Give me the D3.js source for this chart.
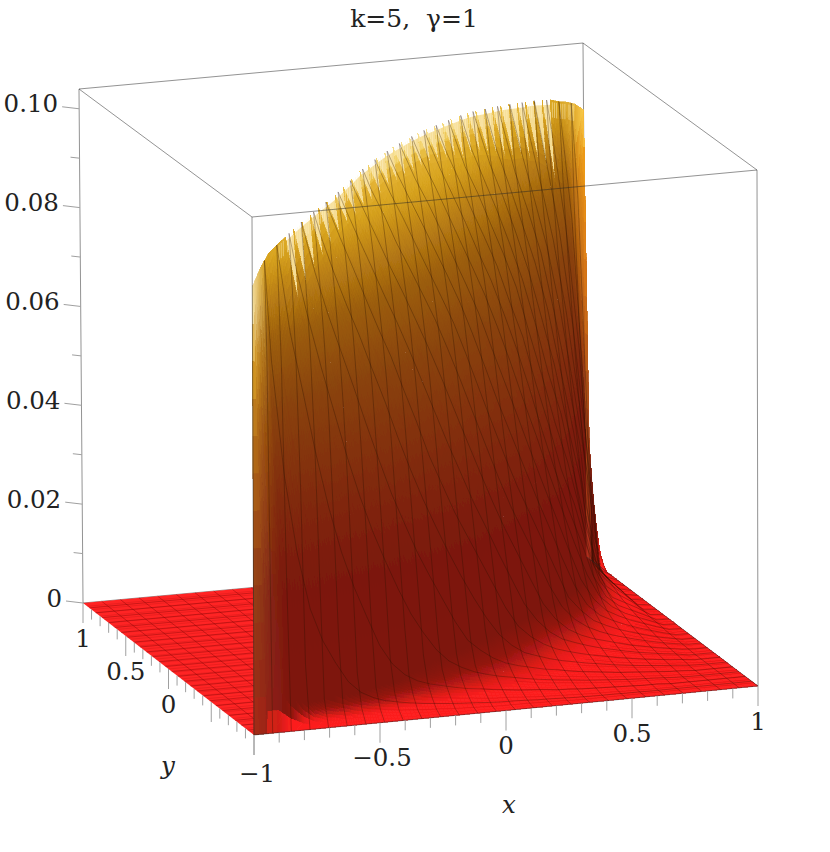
<!DOCTYPE html>
<html>
<head>
<meta charset="utf-8">
<script src="https://cdn.jsdelivr.net/npm/d3@7"></script>
<style>
  html, body { margin: 0; padding: 0; background: #fff; }
  text { font-family: "DejaVu Serif", serif; fill: #222; }
</style>
</head>
<body>
<div id="chart-wrapper"></div>
<script>
// tick labels
const xTicks = [-1, -0.5, 0, 0.5, 1];
const yTicks = [0, 0.5, 1];
const zTicks = [0, 0.02, 0.04, 0.06, 0.08, 0.1];
const zLabels = ["0", "0.02", "0.04", "0.06", "0.08", "0.10"];

// surface heights, in units of 0.0001
// grid is 40 cells per side, step 0.05
// ridgeHeights[i] = height at x = y = -1 + i * 0.05
const ridgeHeights = [900, 930, 950, 958, 965, 972, 978, 983, 988, 992, 997, 1003, 1010, 1018, 1022, 1026, 1029, 1031, 1032, 1033, 1033,
  1032, 1030, 1028, 1026, 1024, 1021, 1017, 1011, 1006, 1001, 995, 988, 982, 976, 968, 960, 948, 938, 925, 905];

// wallHeights[i] = heights on the line x = -1 + i * 0.05, going from the ridge towards y = -1
// (first entry y index i-1, next i-2 ...), missing entries are flat
const wallHeights = [
  [],
  [],
  [541],
  [717, 302],
  [788, 543, 159],
  [834, 666, 394, 80],
  [859, 729, 540, 287, 50],
  [882, 767, 625, 429, 202, 40],
  [896, 796, 687, 526, 336, 127, 32],
  [912, 823, 722, 594, 436, 261, 85, 25],
  [927, 846, 754, 648, 511, 355, 198, 62, 21],
  [936, 865, 781, 691, 570, 432, 288, 137, 48, 17],
  [945, 874, 800, 719, 616, 495, 363, 231, 96, 41, 14],
  [952, 886, 816, 737, 658, 544, 423, 300, 177, 71, 34, 12],
  [954, 895, 829, 755, 680, 579, 474, 361, 248, 125, 56, 29, 10],
  [961, 904, 837, 769, 700, 610, 513, 405, 300, 197, 92, 47, 25, 9],
  [967, 908, 842, 783, 713, 636, 544, 445, 345, 249, 144, 70, 41, 22, 7],
  [968, 915, 856, 790, 726, 656, 567, 471, 385, 290, 200, 105, 56, 35, 19, 6],
  [969, 917, 859, 800, 738, 669, 589, 504, 412, 323, 241, 150, 82, 47, 30, 17, 5],
  [970, 919, 862, 804, 745, 684, 607, 524, 440, 352, 272, 191, 108, 63, 42, 27, 14, 4],
  [970, 920, 864, 807, 749, 690, 618, 541, 460, 381, 301, 226, 144, 85, 53, 36, 23, 12, 3],
  [970, 920, 864, 809, 752, 694, 626, 552, 475, 398, 320, 251, 177, 106, 66, 45, 31, 20, 11, 3],
  [965, 917, 861, 806, 750, 695, 627, 558, 482, 410, 338, 270, 201, 126, 81, 53, 39, 28, 17, 9, 3],
  [960, 910, 856, 803, 748, 693, 625, 556, 486, 416, 346, 281, 215, 148, 93, 63, 45, 33, 24, 15, 7, 2],
  [955, 905, 852, 800, 745, 690, 622, 554, 486, 416, 350, 287, 225, 164, 106, 70, 50, 39, 29, 20, 13, 6, 2],
  [945, 895, 840, 788, 742, 685, 618, 550, 482, 416, 350, 289, 234, 175, 111, 81, 57, 44, 33, 25, 17, 10, 5, 1],
  [940, 890, 835, 783, 730, 682, 614, 548, 482, 416, 350, 292, 237, 181, 120, 87, 63, 47, 37, 29, 21, 15, 9, 4],
  [935, 880, 825, 775, 722, 662, 608, 542, 476, 416, 350, 292, 237, 184, 126, 88, 65, 50, 40, 31, 24, 19, 12, 7, 3],
  [925, 875, 815, 765, 705, 644, 590, 530, 464, 404, 344, 287, 234, 181, 126, 90, 66, 51, 42, 34, 27, 20, 15, 10, 6, 2],
  [915, 860, 805, 745, 695, 638, 572, 506, 452, 392, 332, 281, 225, 175, 123, 88, 66, 52, 44, 35, 29, 22, 17, 13, 8, 5, 2],
  [900, 845, 785, 730, 670, 602, 542, 476, 416, 368, 315, 264, 214, 162, 112, 86, 65, 51, 43, 36, 29, 24, 19, 14, 10, 7, 4, 1],
  [890, 825, 765, 708, 644, 578, 512, 452, 392, 332, 292, 242, 195, 148, 106, 81, 63, 50, 41, 35, 29, 24, 19, 15, 11, 8, 5, 3, 1],
  [885, 810, 745, 684, 614, 542, 476, 416, 356, 298, 253, 220, 170, 126, 93, 70, 57, 47, 40, 34, 29, 24, 19, 15, 12, 9, 6, 4, 2],
  [870, 790, 725, 656, 584, 512, 452, 392, 332, 275, 231, 187, 144, 106, 81, 63, 50, 44, 37, 31, 27, 22, 19, 15, 12, 9, 7, 5, 3, 2],
  [860, 765, 690, 608, 530, 458, 392, 326, 270, 225, 181, 142, 106, 85, 64, 53, 45, 39, 33, 29, 24, 20, 17, 14, 11, 9, 7, 5, 3, 2],
  [840, 735, 650, 560, 476, 398, 332, 275, 220, 150, 105, 95, 75, 60, 50, 45, 39, 33, 29, 25, 21, 18, 15, 13, 10, 8, 6, 5, 3, 2],
  [800, 698, 590, 494, 404, 326, 264, 170, 85, 80, 72, 60, 50, 42, 38, 34, 30, 27, 24, 20, 17, 15, 12, 10, 8, 7, 5, 4, 3, 2],
  [765, 632, 506, 398, 309, 237, 70, 60, 58, 55, 50, 44, 39, 33, 30, 26, 23, 20, 18, 15, 13, 10, 9, 7, 6, 5, 4, 3, 2],
  [700, 518, 374, 270, 60, 40, 36, 34, 33, 31, 30, 26, 24, 22, 19, 17, 14, 12, 11, 9, 7, 6, 5, 4, 3, 2],
  [536, 292, 120, 22, 16, 12, 9, 7, 6, 5, 4, 4, 3, 3, 2, 2, 2, 1, 1, 1, 1],
  []
];

const cells = 40;
const meshLines = 26;
const zUnit = 0.0001;
const zMax = 0.104;

// box corners on the page: [x, y] as seen in the picture
const corners = {
  front: { low: [254, 735], high: [252, 217] },  // x=-1, y=-1
  right: { low: [758, 686], high: [757, 170] },  // x=1,  y=-1
  left: { low: [83, 603], high: [79, 89] },      // x=-1, y=1
  back: { low: [587, 557], high: [583, 43] }     // x=1,  y=1
};

const xScale = d3.scaleLinear().domain([-1, 1]).range([0, 1]);
const yScale = d3.scaleLinear().domain([-1, 1]).range([0, 1]);
const zScale = d3.scaleLinear().domain([0, zMax]).range([0, 1]);

// trilinear mapping of the box on to the page
function project(x, y, z) {
  const u = xScale(x), v = yScale(y), w = zScale(z);
  const mix = (key, k) =>
    (1 - u) * (1 - v) * corners.front[key][k] +
    u * (1 - v) * corners.right[key][k] +
    (1 - u) * v * corners.left[key][k] +
    u * v * corners.back[key][k];
  return [0, 1].map((k) => mix("low", k) * (1 - w) + mix("high", k) * w);
}

// height at grid node i (x), j (y)
function heightAt(i, j) {
  if (i === j) return ridgeHeights[i] * zUnit;
  if (i < j) return 0;
  const v = wallHeights[i][i - j - 1];
  return (v === undefined ? 0 : v) * zUnit;
}
const node = (i, j) => ({ x: -1 + i * 0.05, y: -1 + j * 0.05, z: heightAt(i, j) });

// colours by height
const wallColor = d3.scaleLinear()
  .domain([0, 0.003, 0.0045, 0.006, 0.008, 0.011, 0.03, 0.05, 0.065, 0.078, 0.088, 0.094, 0.098, 0.101, 0.104])
  .range(["#ff2020", "#fa2020", "#e01d18", "#b81a14", "#921610", "#7e1410", "#7c1a0f", "#83300e", "#8a440e", "#9c5e0f", "#c08614", "#d8a420", "#e2b030", "#f0cc5a", "#fff2c0"])
  .clamp(true);
const rightLitColor = d3.scaleLinear()
  .domain([0, 0.004, 0.03, 0.06, 0.08, 0.09, 0.1])
  .range(["#ff2020", "#a8301a", "#a84a18", "#dc7c14", "#ee9a18", "#f8c848", "#fff2c0"])
  .clamp(true);
const leftLitColor = d3.scaleLinear()
  .domain([0, 0.004, 0.03, 0.06, 0.075, 0.085])
  .range(["#ff2020", "#a03018", "#98461a", "#c07a18", "#e8b030", "#fff0b8"])
  .clamp(true);
const leftLit = d3.scaleLinear().domain([-1, -0.92]).range([0.85, 0]).clamp(true);
const rightLit = d3.scaleLinear().domain([0.86, 1]).range([0, 1]).clamp(true);
// the front part turns dark at lower height than the middle
const darkBoost = d3.scaleLinear().domain([-0.8, -0.55, -0.1]).range([2.2, 1.6, 1]).clamp(true);
const boostFade = d3.scaleLinear().domain([0.006, 0.012]).range([1, 0]).clamp(true);

function surfaceColor(p) {
  const s = (p.x + p.y) / 2;
  const zc = p.z * (1 + (darkBoost(s) - 1) * boostFade(p.z));
  const base = wallColor(zc);
  if (s < 0) return d3.interpolateRgb(base, leftLitColor(p.z))(leftLit(s));
  return d3.interpolateRgb(base, rightLitColor(p.z))(rightLit(s));
}

const line = d3.line();
const width = 830, height = 852;

const wrapper = d3.select("#chart-wrapper")
  .append("svg")
  .attr("width", width)
  .attr("height", height)
  .style("display", "block");

// the picture is a little soft, same here
const defs = wrapper.append("defs");
defs.append("filter")
  .attr("id", "soft")
  .attr("x", "0").attr("y", "0")
  .attr("width", "100%").attr("height", "100%")
  .attr("filterUnits", "userSpaceOnUse")
  .append("feGaussianBlur")
  .attr("stdDeviation", 0.6);

const frameColor = "rgba(40,40,40,0.5)";

function drawEdge(g, a, b) {
  g.append("line")
    .attr("x1", a[0]).attr("y1", a[1])
    .attr("x2", b[0]).attr("y2", b[1])
    .attr("stroke", frameColor)
    .attr("stroke-width", 1);
}

// back of the box
const backFrame = wrapper.append("g");
drawEdge(backFrame, corners.left.high, corners.back.high);
drawEdge(backFrame, corners.left.high, corners.front.high);
drawEdge(backFrame, corners.back.high, corners.right.high);
drawEdge(backFrame, corners.left.high, corners.left.low);
drawEdge(backFrame, corners.back.high, corners.back.low);
drawEdge(backFrame, corners.left.low, corners.back.low);

// flat part behind the wall
const plate = wrapper.append("g");
plate.append("path")
  .attr("d", line([[-1, -1], [1, 1], [-1, 1]].map((p) => project(p[0], p[1], 0))) + "Z")
  .attr("fill", "#ff2424");
for (let n = 1; n < meshLines + 1; n++) {
  const v = -1 + (n * 2) / (meshLines + 1);
  [[[v, v], [v, 1]], [[-1, v], [v, v]]].forEach((seg) => {
    plate.append("path")
      .attr("d", line(seg.map((p) => project(p[0], p[1], 0))))
      .attr("fill", "none")
      .attr("stroke", "rgb(110,0,0)")
      .attr("stroke-opacity", 0.45)
      .attr("stroke-width", 0.8);
  });
}
// faint bands of the fine grid
for (let j = 1; j < cells; j++) {
  const v = -1 + j * 0.05;
  plate.append("path")
    .attr("d", line([[-1, v], [v, v]].map((p) => project(p[0], p[1], 0))))
    .attr("stroke", "rgb(110,0,0)")
    .attr("stroke-opacity", 0.14)
    .attr("stroke-width", 1);
}

const surface = wrapper.append("g")
  .attr("filter", "url(#soft)");

// pale fringe between the ridge spikes
const fringe = [];
for (let k = 0; k <= cells; k++) {
  const p = node(k, k);
  fringe.push(project(p.x, p.y, p.z - 0.001));
}
for (let k = cells - 1; k >= 1; k--) {
  const p = node(k + 1, k);
  fringe.push(project(p.x, p.y, p.z));
}
surface.append("path")
  .attr("d", line(fringe) + "Z")
  .attr("fill", "#f2cf6a")
  .attr("fill-opacity", 0.7);

// one cell, cut in small pieces so the colour runs smoothly
function drawPatch(a, b, c, d) {
  const zs = [a.z, b.z, c.z, d.z];
  const spread = d3.max(zs) - d3.min(zs);
  // finer where the colour changes fast, near the foot of the wall
  const step = d3.min(zs) < 0.012 ? 0.0008 : 0.003;
  const n = Math.min(12, Math.ceil(spread / step) + 1);
  const at = (s, t) => {
    const m = (key) =>
      (1 - s) * (1 - t) * a[key] + s * (1 - t) * b[key] + s * t * c[key] + (1 - s) * t * d[key];
    return { x: m("x"), y: m("y"), z: m("z") };
  };
  for (let q = 0; q < n; q++) {
    for (let r = 0; r < n; r++) {
      const s0 = q / n, s1 = (q + 1) / n, t0 = r / n, t1 = (r + 1) / n;
      const pts = [at(s0, t0), at(s1, t0), at(s1, t1), at(s0, t1)]
        .map((p) => project(p.x, p.y, p.z));
      const color = surfaceColor(at((s0 + s1) / 2, (t0 + t1) / 2));
      // crisp edges: no background shows through the many small seams
      surface.append("path")
        .attr("d", line(pts) + "Z")
        .attr("fill", color)
        .attr("stroke", color)
        .attr("stroke-width", 0.6)
        .attr("shape-rendering", "crispEdges");
    }
  }
}

// the ridge ends are steep, close the gaps between their spikes
[0, 1, 2, 3, 36, 37, 38, 39].forEach((k) => {
  drawPatch(node(k, k), node(k + 1, k), node(k + 1, k + 1), node(k + 1, k + 1));
});

// back to front: nearest the ridge first
for (let row = 1; row < cells; row++) {
  for (let j = 0; j + row < cells; j++) {
    const i = j + row;
    if (row === 1) {
      const tipLeft = node(i, j), tipRight = node(i + 1, j + 1), top = node(i, i);
      drawPatch(tipLeft, node(i + 1, j), tipRight, tipRight);
      drawPatch(tipLeft, tipRight, top, top);
    } else {
      drawPatch(node(i, j), node(i + 1, j), node(i + 1, j + 1), node(i, j + 1));
    }
  }
}

// the two end spikes stand on the box corners
const frontFoot = { x: -1, y: -1, z: 0 }, backFoot = { x: 1, y: 1, z: 0 };
drawPatch(frontFoot, node(1, 0), node(0, 0), node(0, 0));
drawPatch(node(40, 39), backFoot, node(40, 40), node(40, 40));

// fine streaks in the fringe at the top
const streaks = wrapper.append("g")
  .attr("stroke", "#fff6d0")
  .attr("stroke-opacity", 0.45)
  .attr("stroke-width", 1);
for (let k = 3; k < cells - 1; k++) {
  [0.25, 0.5, 0.75].forEach((f) => {
    const a = node(k, k), b = node(k + 1, k + 1);
    const x = a.x + (b.x - a.x) * f, zTop = a.z + (b.z - a.z) * f;
    const top = project(x, x, zTop - 0.0004), low = project(x, x, zTop - 0.0035);
    streaks.append("line")
      .attr("x1", top[0]).attr("y1", top[1])
      .attr("x2", low[0]).attr("y2", low[1]);
  });
}

// mesh lines run at their own spacing, across the grid cells
const mesh = wrapper.append("g")
  .attr("fill", "none")
  .attr("stroke", "rgb(40,16,0)")
  .attr("stroke-opacity", 0.36)
  .attr("stroke-width", 0.9);

function meshLine(pts) {
  mesh.append("path").attr("d", line(pts.map((p) => project(p.x, p.y, p.z))));
}

for (let n = 1; n <= meshLines; n++) {
  const g = (n * cells) / (meshLines + 1);
  const lo = Math.floor(g), hi = Math.min(lo + 1, cells), f = g - lo;
  const v = -1 + g * 0.05;
  const ridge = ridgeHeights[lo] * zUnit * (1 - f) + ridgeHeights[hi] * zUnit * f;

  // x = v, from the front edge up to the ridge
  const alongY = d3.range(0, lo + 1).map((j) => ({
    x: v,
    y: -1 + j * 0.05,
    z: heightAt(lo, j) * (1 - f) + heightAt(hi, j) * f
  }));
  meshLine(alongY.filter((p) => p.y < v - 0.02).concat([{ x: v, y: v, z: ridge }]));

  // y = v, from the ridge out to the right edge
  const alongX = d3.range(hi, cells + 1).map((i) => ({
    x: -1 + i * 0.05,
    y: v,
    z: heightAt(i, lo) * (1 - f) + heightAt(i, hi) * f
  }));
  meshLine([{ x: v, y: v, z: ridge }].concat(alongX.filter((p) => p.x > v + 0.02)));
}

// faint bands of the fine grid on the flat part in front
for (let j = 1; j < cells; j++) {
  const flat = d3.range(j + 1, cells + 1).map((i) => node(i, j)).filter((p) => p.z < 0.003);
  wrapper.append("path")
    .attr("d", line(flat.map((p) => project(p.x, p.y, p.z))))
    .attr("fill", "none")
    .attr("stroke", "rgb(110,0,0)")
    .attr("stroke-opacity", 0.14)
    .attr("stroke-width", 1);
}

// front of the box
const frontFrame = wrapper.append("g");
drawEdge(frontFrame, corners.front.high, corners.right.high);
drawEdge(frontFrame, corners.front.high, corners.front.low);
drawEdge(frontFrame, corners.right.high, corners.right.low);
drawEdge(frontFrame, corners.front.low, corners.right.low);
drawEdge(frontFrame, corners.right.low, corners.back.low);

// axes
const axes = wrapper.append("g");
const tickColor = "#a0a0a0";
const labelSize = 24.5;

function label(txt, x, y, anchor, size) {
  return axes.append("text")
    .attr("x", x)
    .attr("y", y)
    .attr("text-anchor", anchor || "middle")
    .attr("dominant-baseline", "middle")
    .attr("font-size", size || labelSize)
    .text(txt);
}

// x ticks along the front edge
d3.range(-10, 11).forEach((n) => {
  const v = n / 10;
  const major = n % 5 === 0;
  const [px, py] = project(v, -1, 0);
  axes.append("line")
    .attr("x1", px).attr("y1", py)
    .attr("x2", px).attr("y2", py + (major ? 20 : 10))
    .attr("stroke", tickColor);
});
xTicks.forEach((v) => {
  const [px, py] = project(v, -1, 0);
  const txt = String(v).replace("-", "\u2212");
  label(txt, px + (v === -1 ? 3 : 0) + (v === -0.5 ? 2 : 0), py + (v === -1 ? 40 : 37));
});

// y ticks along the left edge
d3.range(-10, 11).forEach((n) => {
  const v = n / 10;
  const major = n % 5 === 0;
  const [px, py] = project(-1, v, 0);
  axes.append("line")
    .attr("x1", px).attr("y1", py)
    .attr("x2", px).attr("y2", py + (major ? 20 : 10))
    .attr("stroke", tickColor);
});
yTicks.forEach((v) => {
  const [px, py] = project(-1, v, 0);
  label(String(v), px, py + 37);
});

// z ticks on the back left edge
d3.range(0, 11).forEach((n) => {
  const v = n / 100;
  const major = n % 2 === 0;
  const [px, py] = project(-1, 1, v);
  axes.append("line")
    .attr("x1", px).attr("y1", py)
    .attr("x2", px - (major ? 17 : 9)).attr("y2", py - (major ? 2 : 1))
    .attr("stroke", tickColor);
});
zTicks.forEach((v, n) => {
  const [px, py] = project(-1, 1, v);
  label(zLabels[n], px - 21, py - 3, "end");
});

label("x", 509, 806).attr("font-style", "italic");
label("y", 168, 767).attr("font-style", "italic");
label("k=5,  \u03b3=1", 414, 20, "middle", 25).style("white-space", "pre");
</script>
</body>
</html>
